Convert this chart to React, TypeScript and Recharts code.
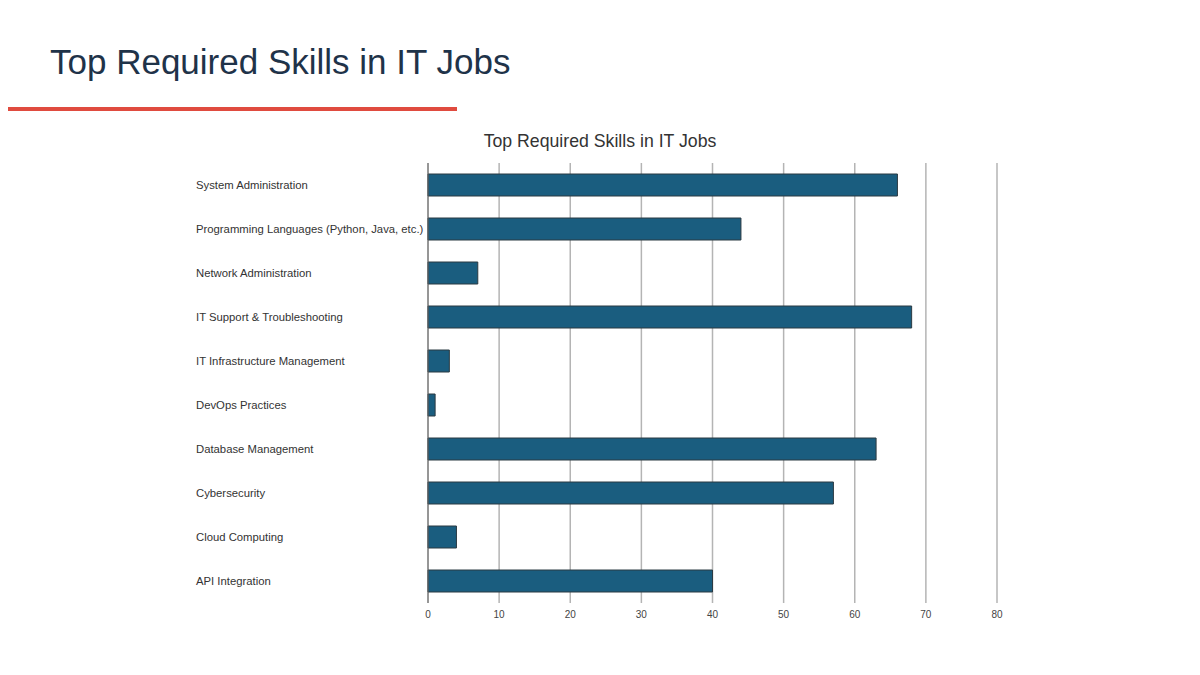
import { BarChart, Bar, XAxis, YAxis, CartesianGrid } from "recharts";

const skills = [
  "System Administration",
  "Programming Languages (Python, Java, etc.)",
  "Network Administration",
  "IT Support & Troubleshooting",
  "IT Infrastructure Management",
  "DevOps Practices",
  "Database Management",
  "Cybersecurity",
  "Cloud Computing",
  "API Integration",
];

const counts = [66, 44, 7, 68, 3, 1, 63, 57, 4, 40];

const xTicks = [0, 10, 20, 30, 40, 50, 60, 70, 80];

const FONT = "'Liberation Sans', Arial, sans-serif";

const data = skills.map((name, i) => ({ name, value: counts[i] }));

function SkillTick({ y, payload }: any) {
  return (
    <text x={196} y={y} dy={4} textAnchor="start" fontSize={11.3} fill="#333" fontFamily={FONT}>
      {payload.value}
    </text>
  );
}

export default function App() {
  return (
    <div
      style={{
        position: "absolute",
        left: 0,
        top: 0,
        width: 1200,
        height: 675,
        background: "#fff",
        fontFamily: FONT,
      }}
    >
      <div
        style={{
          position: "absolute",
          left: 50,
          top: 42,
          fontSize: 35,
          color: "#1f3349",
          whiteSpace: "nowrap",
        }}
      >
        Top Required Skills in IT Jobs
      </div>
      <div
        style={{
          position: "absolute",
          left: 8,
          top: 107,
          width: 449,
          height: 4,
          background: "#e04b3f",
        }}
      />
      <div
        style={{
          position: "absolute",
          left: 0,
          width: 1200,
          top: 131,
          textAlign: "center",
          fontSize: 17.7,
          color: "#333",
        }}
      >
        Top Required Skills in IT Jobs
      </div>
      <BarChart
        width={1200}
        height={675}
        data={data}
        layout="vertical"
        margin={{ top: 163, right: 203, bottom: 42, left: 196 }}
        barCategoryGap={11}
      >
        <CartesianGrid horizontal={false} stroke="#b4b4b4" strokeWidth={1.5} />
        <XAxis
          type="number"
          domain={[0, 80]}
          ticks={xTicks}
          axisLine={false}
          tickLine={false}
          height={30}
          tick={{ fontSize: 10, fill: "#444", fontFamily: FONT }}
        />
        <YAxis
          type="category"
          dataKey="name"
          width={232}
          axisLine={{ stroke: "#666", strokeWidth: 1 }}
          tickLine={false}
          tick={<SkillTick />}
          interval={0}
        />
        <Bar
          dataKey="value"
          fill="#1a5d7f"
          stroke="#2b3a42"
          strokeWidth={1}
          isAnimationActive={false}
        />
      </BarChart>
    </div>
  );
}
